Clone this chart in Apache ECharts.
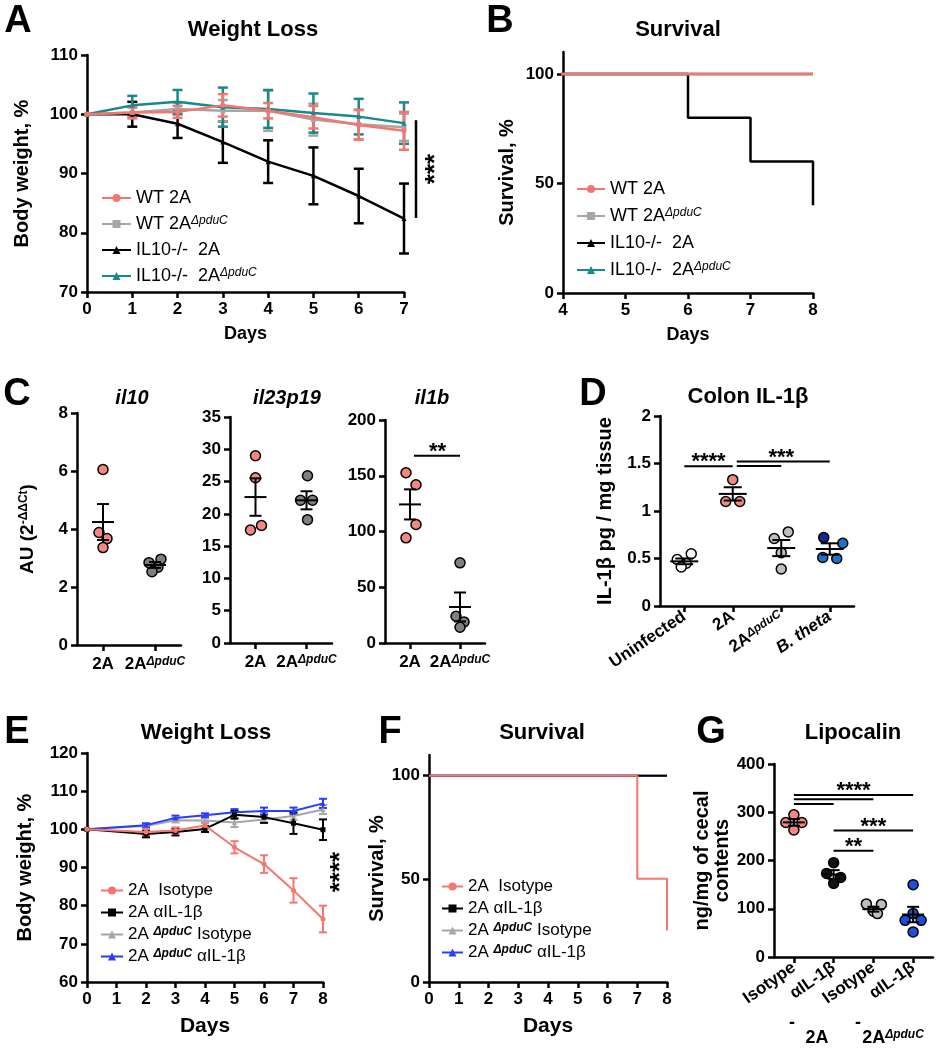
<!DOCTYPE html>
<html><head><meta charset="utf-8">
<script src="https://cdn.jsdelivr.net/npm/echarts@6/dist/echarts.min.js"></script>
<style>html,body{margin:0;padding:0;background:#fff}#c{width:937px;height:1050px}</style>
</head><body><div id="c"></div>
<script>
// ================= DATA =================
// Panel A – weight loss (mean, error)
const aDays = [0, 1, 2, 3, 4, 5, 6, 7];
const aWT2A = [100, 100.3, 100.4, 101.5, 100.6, 99.5, 98.2, 97.2];
const aWT2AErr = [0, 1.0, 1.0, 1.9, 1.3, 1.9, 2.5, 3.2];
const aWTdp = [100, 100.3, 100.9, 100.6, 100.6, 99.1, 98.3, 97.8];
const aWTdpErr = [0, 0.8, 1.0, 1.8, 3.4, 2.7, 2.5, 2.3];
const aIL2A = [100, 100.0, 98.4, 95.3, 92.0, 89.6, 86.2, 82.4];
const aIL2AErr = [0, 2.1, 2.4, 3.5, 3.6, 4.8, 4.6, 5.9];
const aILdp = [100, 101.5, 102.1, 101.2, 100.9, 100.2, 99.6, 98.5];
const aILdpErr = [0, 1.6, 2.0, 3.3, 3.2, 3.3, 3.0, 3.5];
const aSig = [7, 99.0, 82.5];           // x, y from, y to
const aSigLabel = '***';

// Panel B – survival
const bWT2ATimes = [0, 8], bWT2ASurv = [100, 100];
const bWTdpTimes = [0, 8], bWTdpSurv = [100, 100];
const bIL2ATimes = [0, 6, 7, 8], bIL2ASurv = [100, 80, 60, 40];
const bILdpTimes = [0, 8], bILdpSurv = [100, 100];

// Panel C – qPCR dot plots
const cCats = ['2A', '2AΔpduC'];
const cTitles = ['il10', 'il23p19', 'il1b'];
const c1A = [6.05, 3.88, 3.67, 3.36], c1D = [2.84, 2.96, 2.68, 2.53];
const c1Mean = [4.24, 2.76], c1Sem = [0.62, 0.10];
const c2A = [29.0, 25.6, 18.2, 17.5], c2D = [25.9, 22.1, 22.1, 19.1];
const c2Mean = [22.6, 22.1], c2Sem = [2.9, 1.4];
const c3A = [152.7, 141.9, 106.3, 94.3], c3D = [71.9, 24.0, 18.9, 14.1];
const c3Mean = [124.3, 32.3], c3Sem = [13.5, 13.0];
const c3Sig = [[0, 1, 168]];            // cat from, cat to, y
const c3SigLabel = ['**'];

// Panel D – colon IL-1β
const dCats = ['Uninfected', '2A', '2AΔpduC', 'B. theta'];
const dUninf = [0.55, 0.49, 0.45, 0.41];
const d2A = [1.33, 1.10, 1.10];
const dDp = [0.78, 0.71, 0.56, 0.39];
const dBt = [0.72, 0.66, 0.51, 0.50];
const dMean = [0.47, 1.18, 0.61, 0.60], dSem = [0.03, 0.07, 0.085, 0.06];
const dSig = [[0, 1, 1.47], [1, 2, 1.475], [1, 3, 1.52]];
const dSigLabels = [['****', 0.5, 1.47], ['***', 2.0, 1.52]];

// Panel E – weight loss with antibody
const eDays = [0, 2, 3, 4, 5, 6, 7, 8];
const eIso = [100, 99.3, 99.7, 101.0, 95.3, 90.9, 84.0, 76.5];
const eIsoErr = [0, 0.8, 0.8, 0.8, 1.6, 2.3, 3.2, 3.5];
const eAnti = [100, 98.8, 99.3, 100.1, 103.8, 103.2, 101.6, 99.9];
const eAntiErr = [0, 0.9, 0.9, 0.8, 1.0, 1.5, 2.8, 2.7];
const eDpIso = [100, 100.9, 102.4, 102.3, 101.8, 102.6, 103.5, 105.2];
const eDpIsoErr = [0, 0.5, 0.6, 0.6, 1.2, 0.8, 1.0, 1.2];
const eDpAnti = [100, 101.1, 103.0, 103.7, 104.5, 104.8, 104.8, 106.8];
const eDpAntiErr = [0, 0.5, 0.6, 0.5, 0.8, 0.9, 0.9, 1.2];
const eSig = [8, 88.8];
const eSigLabel = '****';

// Panel F – survival with antibody
const fIsoTimes = [0, 7, 8], fIsoSurv = [100, 50, 25];
const fAntiTimes = [0, 8], fAntiSurv = [100, 100];
const fDpIsoTimes = [0, 8], fDpIsoSurv = [100, 100];
const fDpAntiTimes = [0, 8], fDpAntiSurv = [100, 100];

// Panel G – lipocalin
const gCats = ['Isotype', 'αIL-1β', 'Isotype', 'αIL-1β'];
const gGroups = ['2A', '2AΔpduC'];
const gIso2A = [294.6, 278.7, 278.7, 263.4];
const gAnti2A = [195.5, 173.3, 165.0, 152.5];
const gIsoDp = [110.0, 109.0, 95.0, 90.0];
const gAntiDp = [150.0, 90.0, 76.0, 76.0, 52.0];
const gMean = [279, 171, 99, 88], gSem = [7, 9, 5, 16];
const gSig = [[0, 1, 317], [0, 2, 327], [0, 3, 336], [1, 3, 262], [1, 2, 220]];
const gSigLabels = [['****', 1.5, 336], ['***', 2.0, 262], ['**', 1.5, 220]];

// Series names (legends)
const abNames = ['WT 2A', 'WT 2AΔpduC', 'IL10-/-  2A', 'IL10-/-  2AΔpduC'];
const efNames = ['2A  Isotype', '2A αIL-1β', '2A ΔpduC Isotype', '2A ΔpduC αIL-1β'];

// ================= STYLE =================
const FONT = "'Liberation Sans', Arial, Helvetica, sans-serif";
const COL = {
  salmon: '#F4766E', salmonDot: '#F4877F', gray: '#A6A6A6', teal: '#16898C',
  black: '#000000', blue: '#2A3CFF', dark: '#7F7F7F', light: '#BEBEBE',
  gBlue: '#1E4FDC', dBlue: '#1C73C9', dNavy: '#172A8F'
};
const sigNudge = { c3: [[4, 0]], d: [[0, 0], [4, 0], [4, 0]], g: [[0, 0], [0, 0], [0, 0], [0, 0], [0, 0]] };

function zip(xs, ys) { return xs.map((x, i) => [x, ys[i]]); }

function grid(l, t, w, h) { return { left: l, top: t, width: w, height: h, containLabel: false, outerBoundsMode: 'none' }; }

function axisBase(extra) {
  const a = {
    axisLine: { show: true, onZero: false, lineStyle: { color: '#000', width: 2.5 } },
    axisTick: { show: true, inside: false, length: 6, lineStyle: { color: '#000', width: 2.5 } },
    axisLabel: { color: '#000', fontFamily: FONT, fontWeight: 'bold', fontSize: 17, margin: 9 },
    splitLine: { show: false },
    nameLocation: 'middle',
    nameTextStyle: { color: '#000', fontFamily: FONT, fontWeight: 'bold', fontSize: 20 }
  };
  for (const k in extra) {
    if (typeof extra[k] === 'object' && !Array.isArray(extra[k]) && a[k]) a[k] = Object.assign({}, a[k], extra[k]);
    else a[k] = extra[k];
  }
  return a;
}

const supRich = {
  sup: { fontSize: 12, fontStyle: 'italic', fontWeight: 'bold', fontFamily: FONT, color: '#000', verticalAlign: 'top' },
  it: { fontSize: 17, fontStyle: 'italic', fontWeight: 'bold', fontFamily: FONT, color: '#000' }
};
function supFmt(v) {
  if (v === 'B. theta') return '{it|B. theta}';
  return String(v).replace('ΔpduC', '{sup|ΔpduC}');
}

function lineSeries(gi, name, xs, ys, color, symbol, lw, z) {
  return { type: 'line', name, xAxisIndex: gi, yAxisIndex: gi, data: zip(xs, ys), symbol, symbolSize: 5,
    showSymbol: true, lineStyle: { width: lw, color }, itemStyle: { color }, z, animation: false };
}
function stepSeries(gi, name, xs, ys, color, lw, z) {
  return { type: 'line', name, xAxisIndex: gi, yAxisIndex: gi, data: zip(xs, ys), step: 'end', showSymbol: false,
    symbol: 'rect', symbolSize: 3, lineStyle: { width: lw, color }, itemStyle: { color }, z, clip: true, animation: false };
}
function errSeries(gi, xs, ys, es, color, capW, lw, z) {
  return { type: 'custom', xAxisIndex: gi, yAxisIndex: gi, z, silent: true, animation: false,
    data: xs.map((x, i) => [x, ys[i] - es[i], ys[i] + es[i]]).filter(d => d[2] > d[1]),
    encode: { x: 0, y: [1, 2] },
    renderItem: (p, api) => {
      const lo = api.coord([api.value(0), api.value(1)]);
      const hi = api.coord([api.value(0), api.value(2)]);
      const h = capW / 2, st = { stroke: color, lineWidth: lw };
      return { type: 'group', children: [
        { type: 'line', shape: { x1: lo[0], y1: lo[1], x2: hi[0], y2: hi[1] }, style: st },
        { type: 'line', shape: { x1: lo[0] - h, y1: lo[1], x2: lo[0] + h, y2: lo[1] }, style: st },
        { type: 'line', shape: { x1: hi[0] - h, y1: hi[1], x2: hi[0] + h, y2: hi[1] }, style: st }
      ] };
    } };
}
function dotSeries(gi, cat, vals, jit, fill, size) {
  return { type: 'scatter', xAxisIndex: gi, yAxisIndex: gi, symbolSize: size, z: 3, animation: false,
    data: vals.map((v, i) => ({ value: [cat, v], symbolOffset: [jit[i], 0],
      itemStyle: { color: Array.isArray(fill) ? fill[i] : fill, borderColor: '#000', borderWidth: 1.5, opacity: 1 } })) };
}
function meanSeries(gi, means, sems, meanW, capW, lw) {
  return { type: 'custom', xAxisIndex: gi, yAxisIndex: gi, z: 5, silent: true, animation: false,
    data: means.map((m, i) => [i, m, sems[i]]),
    encode: { x: 0, y: 1 },
    renderItem: (p, api) => {
      const x = api.value(0), m = api.value(1), s = api.value(2);
      const c = api.coord([x, m]), hi = api.coord([x, m + s]), lo = api.coord([x, m - s]);
      const st = { stroke: '#000', lineWidth: lw };
      return { type: 'group', children: [
        { type: 'line', shape: { x1: c[0] - meanW / 2, y1: c[1], x2: c[0] + meanW / 2, y2: c[1] }, style: st },
        { type: 'line', shape: { x1: c[0], y1: lo[1], x2: c[0], y2: hi[1] }, style: st },
        { type: 'line', shape: { x1: c[0] - capW / 2, y1: hi[1], x2: c[0] + capW / 2, y2: hi[1] }, style: st },
        { type: 'line', shape: { x1: c[0] - capW / 2, y1: lo[1], x2: c[0] + capW / 2, y2: lo[1] }, style: st }
      ] };
    } };
}
function textEl(x, y, text, size, rot) {
  return { type: 'text', x, y, rotation: rot || 0,
    style: { text, fill: '#000', font: 'bold ' + size + 'px ' + FONT, align: 'center', verticalAlign: 'middle',
      textAlign: 'center', textVerticalAlign: 'middle' } };
}
// horizontal significance bars on category axes
function sigSeries(gi, rows, labels, nudge, starSize) {
  return { type: 'custom', xAxisIndex: gi, yAxisIndex: gi, z: 6, silent: true, animation: false,
    data: [[0, 0]], encode: { x: 0, y: 1 },
    renderItem: (p, api) => {
      const ch = [];
      rows.forEach((r, i) => {
        const a = api.coord([r[0], r[2]]), b = api.coord([r[1], r[2]]);
        const n = nudge[i] || [0, 0];
        ch.push({ type: 'line', shape: { x1: a[0] + n[0], y1: a[1], x2: b[0] + n[1], y2: b[1] }, style: { stroke: '#000', lineWidth: 2 } });
      });
      labels.forEach(l => {
        const a = api.coord([Math.floor(l[1]), l[2]]), b = api.coord([Math.ceil(l[1]), l[2]]);
        const f = l[1] - Math.floor(l[1]);
        ch.push(textEl(a[0] + (b[0] - a[0]) * f, a[1] - 4, l[0], starSize));
      });
      return { type: 'group', children: ch };
    } };
}
// vertical significance markers on value axes
function vSigSeries(gi, sig, label, lineOff, textOff, starSize, withLine) {
  return { type: 'custom', xAxisIndex: gi, yAxisIndex: gi, z: 6, silent: true, animation: false,
    data: [[0, 0]], encode: { x: 0, y: 1 },
    renderItem: (p, api) => {
      const ch = [];
      if (withLine) {
        const a = api.coord([sig[0], sig[1]]), b = api.coord([sig[0], sig[2]]);
        ch.push({ type: 'line', shape: { x1: a[0] + lineOff, y1: a[1], x2: b[0] + lineOff, y2: b[1] }, style: { stroke: '#000', lineWidth: 2.5 } });
        ch.push(textEl(a[0] + textOff, (a[1] + b[1]) / 2, label, starSize, Math.PI / 2));
      } else {
        const a = api.coord([sig[0], sig[1]]);
        ch.push(textEl(a[0] + textOff, a[1], label, starSize, Math.PI / 2));
      }
      return { type: 'group', children: ch };
    } };
}

// ================= OPTION =================
const grids = [
  grid(87, 55, 317, 237),   // 0 A
  grid(563, 52, 250, 241),  // 1 B
  grid(77, 413, 104, 232),  // 2 C1
  grid(230, 417, 102, 226), // 3 C2
  grid(385, 420, 100, 223), // 4 C3
  grid(660, 416, 194, 190), // 5 D
  grid(87, 753, 236, 229),  // 6 E
  grid(429, 755, 238, 227), // 7 F
  grid(774, 764, 159, 193)  // 8 G
];

const catX = (gi, cats, extraLabel) => axisBase({ type: 'category', gridIndex: gi, data: cats,
  axisTick: { alignWithLabel: true },
  axisLabel: Object.assign({ formatter: supFmt, rich: supRich, margin: 11, interval: 0 }, extraLabel || {}) });

const xAxes = [
  axisBase({ type: 'value', gridIndex: 0, min: 0, max: 7, interval: 1, name: 'Days', nameGap: 33, nameTextStyle: { fontSize: 18 } }),
  axisBase({ type: 'value', gridIndex: 1, min: 4, max: 8, interval: 1, name: 'Days', nameGap: 33, nameTextStyle: { fontSize: 18 } }),
  catX(2, cCats), catX(3, cCats), catX(4, cCats),
  catX(5, dCats, { rotate: 34, margin: 9 }),
  axisBase({ type: 'value', gridIndex: 6, min: 0, max: 8, interval: 1, name: 'Days', nameGap: 34, nameTextStyle: { fontSize: 21 } }),
  axisBase({ type: 'value', gridIndex: 7, min: 0, max: 8, interval: 1, name: 'Days', nameGap: 34, nameTextStyle: { fontSize: 21 } }),
  catX(8, gCats, { rotate: 35, margin: 9, formatter: v => v })
];

const survY = (gi, gap) => axisBase({ type: 'value', gridIndex: gi, min: 0, max: 110,
  axisTick: { customValues: [0, 50, 100] }, axisLabel: { customValues: [0, 50, 100] },
  name: 'Survival, %', nameGap: gap });

const yAxes = [
  axisBase({ type: 'value', gridIndex: 0, min: 70, max: 110, interval: 10, name: 'Body weight, %', nameGap: 55 }),
  survY(1, 46),
  axisBase({ type: 'value', gridIndex: 2, min: 0, max: 8, interval: 2, name: 'AU (2{sup|-ΔΔCt})', nameGap: 40,
    nameTextStyle: { fontSize: 19, rich: { sup: { fontSize: 12, fontWeight: 'bold', fontFamily: FONT, color: '#000', verticalAlign: 'top' } } } }),
  axisBase({ type: 'value', gridIndex: 3, min: 0, max: 35, interval: 5 }),
  axisBase({ type: 'value', gridIndex: 4, min: 0, max: 200, interval: 50 }),
  axisBase({ type: 'value', gridIndex: 5, min: 0, max: 2, interval: 0.5, name: 'IL-1β pg / mg tissue', nameGap: 45 }),
  axisBase({ type: 'value', gridIndex: 6, min: 60, max: 120, interval: 10, name: 'Body weight, %', nameGap: 52 }),
  survY(7, 38),
  axisBase({ type: 'value', gridIndex: 8, min: 0, max: 400, interval: 100, name: 'ng/mg of cecal\ncontents', nameGap: 34,
    nameTextStyle: { lineHeight: 20 } })
];

const series = [
  // A
  errSeries(0, aDays, aIL2A, aIL2AErr, COL.black, 10, 2.5, 2),
  errSeries(0, aDays, aWTdp, aWTdpErr, COL.gray, 10, 2.5, 2),
  errSeries(0, aDays, aILdp, aILdpErr, COL.teal, 10, 2.5, 2),
  errSeries(0, aDays, aWT2A, aWT2AErr, COL.salmon, 10, 2.5, 2),
  lineSeries(0, abNames[2], aDays, aIL2A, COL.black, 'triangle', 2.5, 3),
  lineSeries(0, abNames[1], aDays, aWTdp, COL.gray, 'rect', 2.5, 3),
  lineSeries(0, abNames[3], aDays, aILdp, COL.teal, 'triangle', 2.5, 3),
  lineSeries(0, abNames[0], aDays, aWT2A, COL.salmon, 'circle', 2.5, 4),
  vSigSeries(0, aSig, aSigLabel, 12, 32, 26, true),
  // B
  stepSeries(1, abNames[2], bIL2ATimes, bIL2ASurv, COL.black, 2.5, 2),
  stepSeries(1, abNames[3], bILdpTimes, bILdpSurv, COL.teal, 2.5, 2),
  stepSeries(1, abNames[1], bWTdpTimes, bWTdpSurv, COL.gray, 2.5, 3),
  stepSeries(1, abNames[0], bWT2ATimes, bWT2ASurv, COL.salmon, 2.5, 4),
  // C
  dotSeries(2, 0, c1A, [0, -4, 4, 0], COL.salmonDot, 10),
  dotSeries(2, 1, c1D, [-6, 6, 3, -3], COL.dark, 10),
  meanSeries(2, c1Mean, c1Sem, 22, 12, 2),
  dotSeries(3, 0, c2A, [0, 0, 6, -5], COL.salmonDot, 10),
  dotSeries(3, 1, c2D, [1, -6, 6, 1], COL.dark, 10),
  meanSeries(3, c2Mean, c2Sem, 22, 12, 2),
  dotSeries(4, 0, c3A, [-4, 6, 6, -4], COL.salmonDot, 10),
  dotSeries(4, 1, c3D, [0, -4, 4, 0], COL.dark, 10),
  meanSeries(4, c3Mean, c3Sem, 22, 12, 2),
  sigSeries(4, c3Sig, [[c3SigLabel[0], 0.55, 168]], sigNudge.c3, 22),
  // D
  dotSeries(5, 0, dUninf, [7, -7, 2, -3], '#FFFFFF', 10),
  dotSeries(5, 1, d2A, [0, -7, 7], COL.salmonDot, 10),
  dotSeries(5, 2, dDp, [7, -7, 0, 0], COL.light, 10),
  dotSeries(5, 3, dBt, [-6, 13, -7, 7], [COL.dNavy, COL.dBlue, COL.dBlue, COL.dBlue], 10),
  meanSeries(5, dMean, dSem, 28, 18, 2),
  sigSeries(5, dSig, dSigLabels, sigNudge.d, 22),
  // E
  errSeries(6, eDays, eDpIso, eDpIsoErr, COL.gray, 8, 2, 2),
  errSeries(6, eDays, eDpAnti, eDpAntiErr, COL.blue, 8, 2, 2),
  errSeries(6, eDays, eAnti, eAntiErr, COL.black, 8, 2, 2),
  errSeries(6, eDays, eIso, eIsoErr, COL.salmon, 8, 2, 2),
  lineSeries(6, efNames[2], eDays, eDpIso, COL.gray, 'triangle', 2, 3),
  lineSeries(6, efNames[3], eDays, eDpAnti, COL.blue, 'triangle', 2, 3),
  lineSeries(6, efNames[1], eDays, eAnti, COL.black, 'rect', 2, 3),
  lineSeries(6, efNames[0], eDays, eIso, COL.salmon, 'circle', 2, 4),
  vSigSeries(6, eSig, eSigLabel, 0, 18, 26, false),
  // F
  stepSeries(7, efNames[3], fDpAntiTimes, fDpAntiSurv, COL.blue, 2, 1),
  stepSeries(7, efNames[2], fDpIsoTimes, fDpIsoSurv, COL.gray, 2, 2),
  stepSeries(7, efNames[1], fAntiTimes, fAntiSurv, COL.black, 2, 3),
  stepSeries(7, efNames[0], fIsoTimes, fIsoSurv, COL.salmon, 2, 4),
  // G
  dotSeries(8, 0, gIso2A, [0, -8, 8, 0], COL.salmonDot, 10),
  dotSeries(8, 1, gAnti2A, [0, -7, 7, 0], '#111111', 10),
  dotSeries(8, 2, gIsoDp, [-7, 8, 0, 4], COL.light, 10),
  dotSeries(8, 3, gAntiDp, [0, 0, -8, 8, 0], COL.gBlue, 10),
  meanSeries(8, gMean, gSem, 22, 12, 2),
  sigSeries(8, gSig, gSigLabels, sigNudge.g, 22)
];

const legendText = { color: '#000', fontFamily: FONT, fontSize: 18, fontWeight: 'normal',
  rich: { sup: { fontSize: 12, fontStyle: 'italic', fontFamily: FONT, color: '#000', verticalAlign: 'top' } } };
const legendTextE = { color: '#000', fontFamily: FONT, fontSize: 17, fontWeight: 'normal',
  rich: { sup: { fontSize: 12, fontStyle: 'italic', fontWeight: 'bold', fontFamily: FONT, color: '#000', verticalAlign: 'top' } } };
const legends = [
  { data: abNames, left: 101, top: 189, orient: 'vertical', itemWidth: 29, itemHeight: 10, itemGap: 8, textStyle: legendText, formatter: supFmt, padding: 0, selectedMode: false },
  { data: abNames, left: 576, top: 180, orient: 'vertical', itemWidth: 28, itemHeight: 10, itemGap: 9, textStyle: legendText, formatter: supFmt, padding: 0, selectedMode: false },
  { data: efNames, left: 100, top: 882, orient: 'vertical', itemWidth: 22, itemHeight: 10, itemGap: 5, textStyle: legendTextE, formatter: supFmt, padding: 0, selectedMode: false },
  { data: efNames, left: 441, top: 878, orient: 'vertical', itemWidth: 21, itemHeight: 10, itemGap: 5, textStyle: legendTextE, formatter: supFmt, padding: 0, selectedMode: false }
];

function gText(x, y, text, size, opts) {
  return Object.assign({ type: 'text', x, y, silent: true,
    style: Object.assign({ text, fill: '#000', font: 'bold ' + size + 'px ' + FONT, align: 'center', verticalAlign: 'middle',
      textAlign: 'center', textVerticalAlign: 'middle' }, (opts && opts.style) || {}) }, (opts && opts.el) || {});
}
const titleFont = 22, letterFont = 38;
const graphics = [
  gText(253, 30, 'Weight Loss', titleFont), gText(678, 30, 'Survival', titleFont),
  gText(132, 398, cTitles[0], 20, { style: { font: 'italic bold 20px ' + FONT } }),
  gText(287, 398, cTitles[1], 20, { style: { font: 'italic bold 20px ' + FONT } }),
  gText(432, 398, cTitles[2], 20, { style: { font: 'italic bold 20px ' + FONT } }),
  gText(748, 397, 'Colon IL-1β', titleFont),
  gText(206, 733, 'Weight Loss', titleFont), gText(542, 733, 'Survival', titleFont), gText(853, 733, 'Lipocalin', titleFont),
  gText(18, 22, 'A', letterFont), gText(500, 22, 'B', letterFont), gText(17, 395, 'C', letterFont),
  gText(593, 395, 'D', letterFont), gText(17, 733, 'E', letterFont), gText(390, 733, 'F', letterFont), gText(711, 733, 'G', letterFont),
  gText(792, 1023, '-', 18), gText(858, 1023, '-', 18),
  gText(817, 1038, gGroups[0], 18),
  gText(893, 1038, supFmt(gGroups[1]), 18, { style: { rich: { sup: { fontSize: 12, fontStyle: 'italic', fontWeight: 'bold', fontFamily: FONT, fill: '#000', verticalAlign: 'top' } } } })
];

const option = {
  animation: false,
  backgroundColor: '#ffffff',
  grid: grids, xAxis: xAxes, yAxis: yAxes, series,
  legend: legends,
  graphic: { elements: graphics }
};
const chart = echarts.init(document.getElementById('c'), null, { renderer: 'canvas', width: 937, height: 1050 });
chart.setOption(option);
</script></body></html>
